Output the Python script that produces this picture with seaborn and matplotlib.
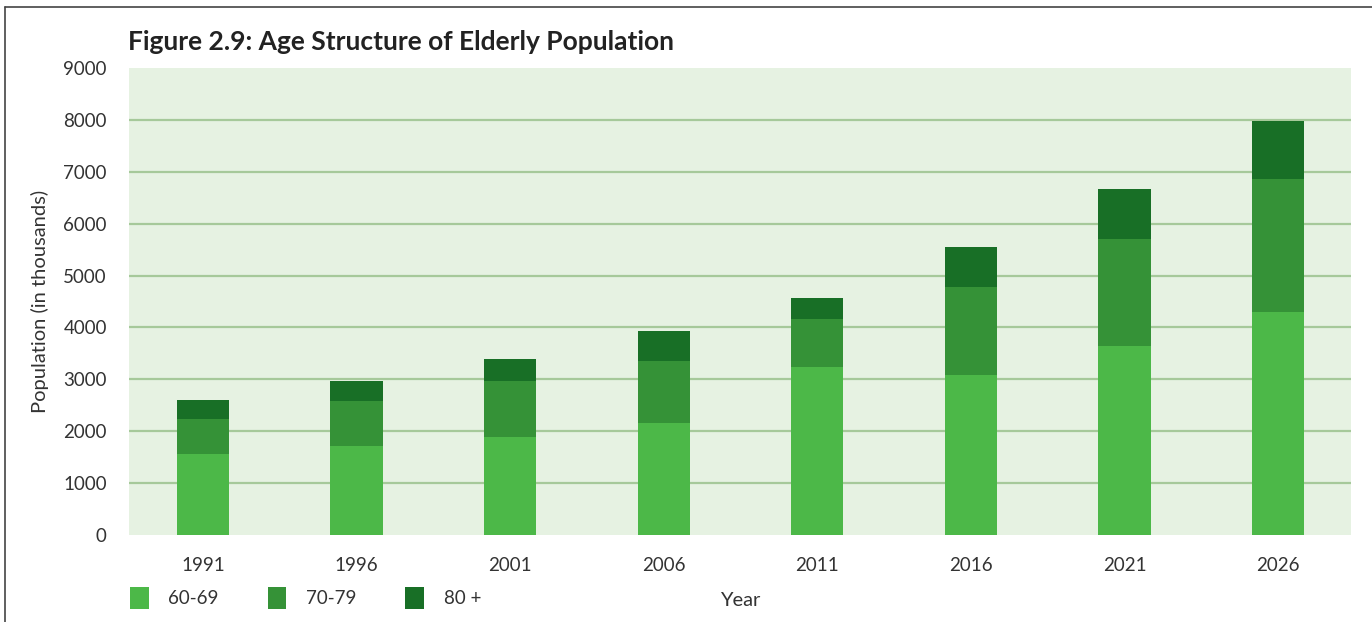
import matplotlib
matplotlib.use("Agg")
import matplotlib.pyplot as plt
import seaborn as sns
import pandas as pd
import numpy as np
from matplotlib.patches import Patch
from matplotlib.lines import Line2D

years = ["1991", "1996", "2001", "2006", "2011", "2016", "2021", "2026"]
age_60_69 = [1561, 1715, 1888, 2158, 3237, 3083, 3642, 4297]
age_70_79 = [674, 867, 1079, 1195, 925, 1695, 2061, 2562]
age_80_plus = [366, 385, 424, 578, 404, 771, 964, 1118]
groups = ["60-69", "70-79", "80 +"]
colors = ["#4cb848", "#359237", "#186f26"]

sns.set_theme(style="white")
plt.rcParams["font.family"] = ["Lato", "DejaVu Sans"]

df = pd.DataFrame({"Year": years, "60-69": age_60_69, "70-79": age_70_79, "80+": age_80_plus})
df["c1"] = df["60-69"]
df["c2"] = df["c1"] + df["70-79"]
df["c3"] = df["c2"] + df["80+"]

fig = plt.figure(figsize=(13.72, 6.22), dpi=100)
ax = fig.add_axes([129 / 1372, 1 - 535 / 622, (1351 - 129) / 1372, (535 - 68) / 622])
ax.set_facecolor("#e6f2e2")

for col, color in zip(["c3", "c2", "c1"], colors[::-1]):
    sns.barplot(data=df, x="Year", y=col, color=color, width=0.34, ax=ax,
                saturation=1, edgecolor="none", linewidth=0, zorder=3)

ax.set_xlim(-0.482, 7.475)
ax.set_ylim(0, 9000)
ax.set_yticks(np.arange(0, 9001, 1000))
for yv in range(1000, 9000, 1000):
    ax.axhline(yv, color="#a6c99a", linewidth=1.6, zorder=1)
ax.grid(False)
for s in ax.spines.values():
    s.set_visible(False)
ax.tick_params(axis="both", length=0, labelsize=13.5, colors="#333333")
ax.tick_params(axis="x", pad=16)
ax.tick_params(axis="y", pad=16)
ax.set_xlabel("")
ax.set_ylabel("Population (in thousands)", fontsize=14.5, color="#333333", labelpad=10)

fig.text(128 / 1372, 1 - 42 / 622, "Figure 2.9: Age Structure of Elderly Population",
         fontsize=19, fontweight="bold", color="#222222", va="center", ha="left")
fig.text(740 / 1372, 1 - 600 / 622, "Year", fontsize=14.5, color="#333333", ha="center", va="center")

handles = [Patch(facecolor=c, edgecolor="none") for c in colors]
leg = fig.legend(handles, groups, loc="center left", bbox_to_anchor=(130 / 1372, 1 - 598 / 622),
                 ncol=3, frameon=False, fontsize=13.5, handlelength=1.0, handleheight=1.5,
                 columnspacing=2.6, handletextpad=1.05, labelcolor="#333333",
                 borderpad=0, borderaxespad=0)

fig.add_artist(Line2D([5 / 1372, 1], [1 - 7 / 622, 1 - 7 / 622], color="#444444", linewidth=1.2))
fig.add_artist(Line2D([5 / 1372, 5 / 1372], [0, 1 - 7 / 622], color="#444444", linewidth=1.2))

fig.savefig("out.png", dpi=100, facecolor="white")
